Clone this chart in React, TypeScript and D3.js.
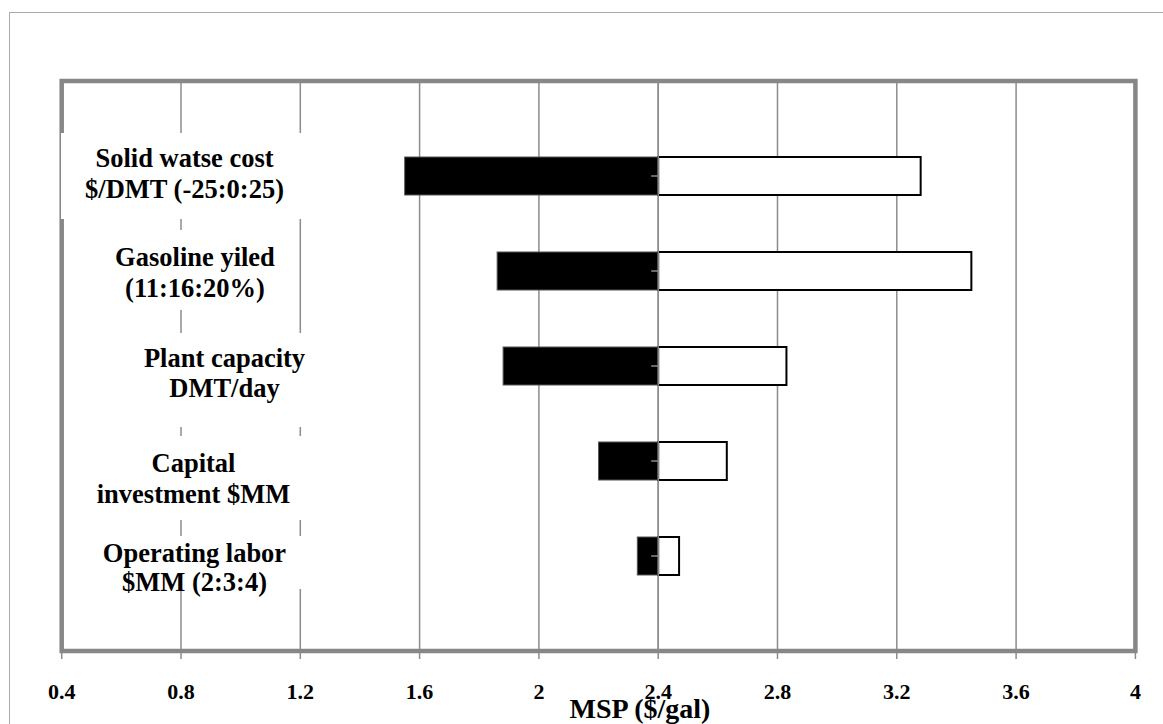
import React, { useEffect, useRef } from "react";
import * as d3 from "d3";

const categories: string[][] = [
  ["Solid watse cost", "$/DMT (-25:0:25)"],
  ["Gasoline yiled", "(11:16:20%)"],
  ["Plant capacity", "DMT/day"],
  ["Capital", "investment $MM"],
  ["Operating labor", "$MM (2:3:4)"],
];
const lowValues = [1.55, 1.86, 1.88, 2.2, 2.33];
const highValues = [3.28, 3.45, 2.83, 2.63, 2.47];
const baseValue = 2.4;
const xTicks = [0.4, 0.8, 1.2, 1.6, 2, 2.4, 2.8, 3.2, 3.6, 4];
const xTitle = "MSP ($/gal)";

// layout of the white-boxed category labels (offsets from the row centre)
const labelLayout = [
  { cx: 184.5, b: [-9, 22], box: [61, 310, -43, 43] },
  { cx: 195, b: [-5, 26], box: [100, 294, -41, 39] },
  { cx: 224.5, b: [1, 31], box: [130, 318, -33, 61] },
  { cx: 193.5, b: [11, 42], box: [84, 305, -25, 59] },
  { cx: 194.5, b: [6, 35], box: [90, 305, -20, 33] },
];

const W = 1163;
const H = 724;
const FONT = "'Liberation Serif', 'Times New Roman', serif";

export default function App() {
  const ref = useRef<SVGSVGElement | null>(null);

  useEffect(() => {
    const svg = d3.select(ref.current);
    svg.selectAll("*").remove();

    const x = d3.scaleLinear().domain([0.4, 4]).range([61.7, 1135.4]);
    const y = d3.scaleLinear().domain([0, 6]).range([81, 651]);
    const band = y(1) - y(0);
    const barH = band * 0.4;

    svg.append("rect").attr("width", W).attr("height", H).attr("fill", "#fff");

    // outer chart frame
    svg
      .append("rect")
      .attr("x", 9.5)
      .attr("y", 12.5)
      .attr("width", W + 20)
      .attr("height", H + 20)
      .attr("fill", "none")
      .attr("stroke", "#ababab")
      .attr("stroke-width", 1);

    // gridlines
    svg
      .append("g")
      .selectAll("line")
      .data(xTicks)
      .join("line")
      .attr("x1", (d) => x(d))
      .attr("x2", (d) => x(d))
      .attr("y1", y(0))
      .attr("y2", y(6))
      .attr("stroke", "#8c8c8c")
      .attr("stroke-width", 1.5);

    // bottom tick marks
    svg
      .append("g")
      .selectAll("line")
      .data(xTicks)
      .join("line")
      .attr("x1", (d) => x(d))
      .attr("x2", (d) => x(d))
      .attr("y1", y(6))
      .attr("y2", y(6) + 8)
      .attr("stroke", "#8c8c8c")
      .attr("stroke-width", 1.5);

    // plot border
    svg
      .append("rect")
      .attr("x", x(0.4))
      .attr("y", y(0))
      .attr("width", x(4) - x(0.4))
      .attr("height", y(6) - y(0))
      .attr("fill", "none")
      .attr("stroke", "#878787")
      .attr("stroke-width", 4.5);

    // category labels with white boxes
    const lg = svg.append("g");
    categories.forEach((lines, i) => {
      const cy = y(i + 1);
      const L = labelLayout[i];
      lg.append("rect")
        .attr("x", L.box[0])
        .attr("y", cy + L.box[2])
        .attr("width", L.box[1] - L.box[0])
        .attr("height", L.box[3] - L.box[2])
        .attr("fill", "#fff");
    });
    categories.forEach((lines, i) => {
      const cy = y(i + 1);
      const L = labelLayout[i];
      lines.forEach((t, j) => {
        lg.append("text")
          .attr("x", L.cx)
          .attr("y", cy + L.b[j])
          .attr("text-anchor", "middle")
          .attr("font-family", FONT)
          .attr("font-weight", "bold")
          .attr("font-size", 26.5)
          .attr("fill", "#000")
          .text(t);
      });
    });

    // bars
    const bg = svg.append("g");
    bg.selectAll("rect.low")
      .data(lowValues)
      .join("rect")
      .attr("class", "low")
      .attr("x", (d) => x(d))
      .attr("y", (d, i) => y(i + 1) - barH / 2)
      .attr("width", (d) => x(baseValue) - x(d))
      .attr("height", barH)
      .attr("fill", "#000")
      .attr("stroke", "#555")
      .attr("stroke-width", 1);
    bg.selectAll("rect.high")
      .data(highValues)
      .join("rect")
      .attr("class", "high")
      .attr("x", x(baseValue))
      .attr("y", (d, i) => y(i + 1) - barH / 2)
      .attr("width", (d) => x(d) - x(baseValue))
      .attr("height", barH)
      .attr("fill", "#fff")
      .attr("stroke", "#000")
      .attr("stroke-width", 2);

    // vertical category axis at base value
    svg
      .append("line")
      .attr("x1", x(baseValue))
      .attr("x2", x(baseValue))
      .attr("y1", y(0))
      .attr("y2", y(6))
      .attr("stroke", "#8c8c8c")
      .attr("stroke-width", 1.5);
    svg
      .append("g")
      .selectAll("line")
      .data(categories)
      .join("line")
      .attr("x1", x(baseValue) - 7)
      .attr("x2", x(baseValue))
      .attr("y1", (d, i) => y(i + 1))
      .attr("y2", (d, i) => y(i + 1))
      .attr("stroke", "#8c8c8c")
      .attr("stroke-width", 1.5);

    // x tick labels
    svg
      .append("g")
      .selectAll("text")
      .data(xTicks)
      .join("text")
      .attr("x", (d) => x(d))
      .attr("y", 699)
      .attr("text-anchor", "middle")
      .attr("font-family", FONT)
      .attr("font-weight", "bold")
      .attr("font-size", 22)
      .attr("fill", "#000")
      .text((d) => d3.format("~g")(d));

    // x axis title
    svg
      .append("text")
      .attr("x", 640)
      .attr("y", 718)
      .attr("text-anchor", "middle")
      .attr("font-family", FONT)
      .attr("font-weight", "bold")
      .attr("font-size", 28)
      .attr("fill", "#000")
      .text(xTitle);
  }, []);

  return (
    <svg
      ref={ref}
      width={W}
      height={H}
      style={{ position: "absolute", left: 0, top: 0, display: "block" }}
    />
  );
}
